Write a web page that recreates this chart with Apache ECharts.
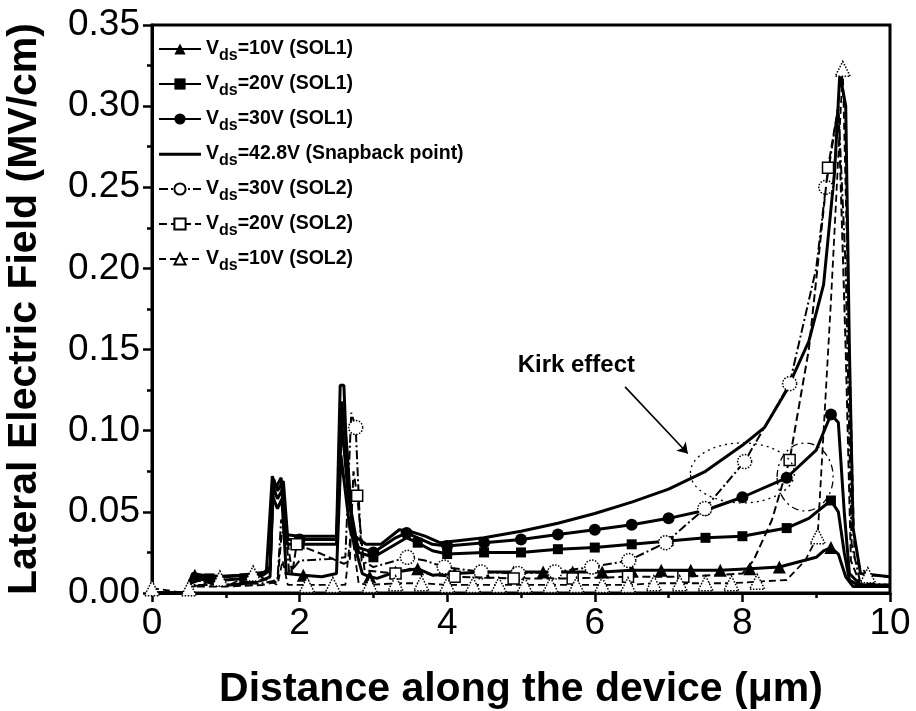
<!DOCTYPE html>
<html><head><meta charset="utf-8">
<script src="https://cdn.jsdelivr.net/npm/echarts/dist/echarts.min.js"></script>
<style>html,body{margin:0;padding:0;background:#fff}#c{width:916px;height:711px}</style>
</head><body><div id="c"></div>
<script>
// ---- labels ----
const seriesNames = ['Vds=10V (SOL1)','Vds=20V (SOL1)','Vds=30V (SOL1)','Vds=42.8V (Snapback point)','Vds=30V (SOL2)','Vds=20V (SOL2)','Vds=10V (SOL2)'];
const xTitle = 'Distance along the device (\u03bcm)';
const yTitle = 'Lateral Electric Field (MV/cm)';
const kirkText = 'Kirk effect';

// ---- Vds=10V (SOL1) ----
const line10s1 = [[0,0],[0.45,0],[0.5,0.004],[0.7,0.008],[0.85,0.005],[1.05,0.005],[1.3,0.006],[1.5,0.008],[1.6,0.01],[1.63,0.06],[1.7,0.052],[1.76,0.058],[1.82,0.012],[2.3,0.01],[2.5,0.012],[2.56,0.085],[2.68,0.04],[2.85,0.012],[3.05,0.009],[3.8,0.011],[9.0,0.022],[9.1,0.026],[9.3,0.024],[9.4,0.01],[9.5,0.004],[10,0.004]];
const marks10s1 = [[0.58,0.011],[2.05,0.011],[2.95,0.01],[3.3,0.013],[3.6,0.015],[4.1,0.012],[4.5,0.013],[4.9,0.013],[5.3,0.013],[5.7,0.013],[6.1,0.013],[6.5,0.014],[6.9,0.014],[7.3,0.014],[7.7,0.014],[8.1,0.015],[8.5,0.016],[9.2,0.028]];

// ---- Vds=20V (SOL1) ----
const line20s1 = [[0,0],[0.45,0],[0.52,0.006],[0.7,0.009],[1.0,0.008],[1.5,0.011],[1.6,0.014],[1.64,0.066],[1.7,0.058],[1.77,0.064],[1.83,0.03],[2.2,0.03],[2.5,0.03],[2.57,0.105],[2.66,0.06],[2.8,0.025],[3.3,0.03],[3.45,0.034],[3.8,0.026],[8.9,0.046],[9.3,0.05],[9.38,0.025],[9.45,0.008],[9.6,0.004],[10,0.004]];
const marks20s1 = [[0.78,0.009],[1.25,0.009],[2.0,0.03],[3.0,0.022],[3.6,0.031],[4.0,0.024],[4.5,0.025],[5.0,0.025],[5.5,0.027],[6.0,0.028],[6.5,0.030],[7.0,0.032],[7.5,0.034],[8.0,0.035],[8.6,0.040],[9.2,0.057]];

// ---- Vds=30V (SOL1) ----
const line30s1 = [[0,0],[0.45,0],[0.52,0.008],[0.7,0.011],[1.0,0.01],[1.5,0.012],[1.6,0.016],[1.65,0.07],[1.7,0.063],[1.78,0.069],[1.84,0.033],[2.2,0.033],[2.5,0.033],[2.57,0.118],[2.64,0.09],[2.72,0.035],[2.8,0.028],[3.3,0.034],[3.8,0.03],[9.0,0.088],[9.3,0.105],[9.38,0.05],[9.45,0.012],[9.6,0.005],[10,0.005]];
const marks30s1 = [[2.0,0.033],[3.0,0.025],[3.45,0.037],[4.0,0.029],[4.5,0.031],[5.0,0.033],[5.5,0.036],[6.0,0.039],[6.5,0.042],[7.0,0.046],[7.5,0.051],[8.0,0.059],[8.6,0.071],[9.2,0.11]];

// ---- Vds=42.8V (Snapback point) ----
const lineSnap = [[0,0],[0.45,0],[0.55,0.012],[0.8,0.01],[1.2,0.011],[1.55,0.013],[1.63,0.072],[1.68,0.065],[1.75,0.071],[1.8,0.036],[2.0,0.035],[2.5,0.035],[2.55,0.128],[2.6,0.128],[2.66,0.06],[2.75,0.035],[2.9,0.03],[3.1,0.03],[3.35,0.039],[3.5,0.038],[3.7,0.035],[3.9,0.031],[4.5,0.034],[5.0,0.038],[5.5,0.043],[6.0,0.049],[6.5,0.056],[7.0,0.064],[7.5,0.075],[8.0,0.091],[8.3,0.102],[8.6,0.125],[8.9,0.155],[9.1,0.19],[9.25,0.26],[9.32,0.32],[9.4,0.30],[9.45,0.15],[9.5,0.04],[9.6,0.012],[10,0.01]];
const marksSnap = [];

// ---- Vds=30V (SOL2) ----
const line30s2 = [[0,0],[0.45,0],[0.52,0.005],[1.0,0.005],[1.5,0.006],[1.7,0.008],[1.75,0.045],[1.8,0.045],[1.86,0.012],[2.0,0.02],[2.4,0.021],[2.62,0.022],[2.7,0.111],[2.84,0.02],[3.0,0.016],[3.7,0.02],[9.0,0.2],[9.3,0.30],[9.4,0.2],[9.48,0.03],[9.6,0.006],[10,0.005]];
const marks30s2 = [[2.76,0.102],[3.46,0.022],[3.96,0.016],[4.46,0.013],[4.96,0.012],[5.46,0.013],[5.96,0.016],[6.46,0.020],[6.96,0.031],[7.49,0.052],[8.03,0.081],[8.64,0.129],[9.13,0.25]];

// ---- Vds=20V (SOL2) ----
const line20s2 = [[0,0],[0.45,0],[0.52,0.004],[1.0,0.004],[1.5,0.005],[1.7,0.007],[1.76,0.038],[1.83,0.034],[1.9,0.012],[2.3,0.024],[2.6,0.018],[2.68,0.02],[2.73,0.075],[2.88,0.014],[3.5,0.015],[3.8,0.011],[8.0,0.012],[8.15,0.02],[8.4,0.045],[8.9,0.15],[9.3,0.30],[9.4,0.15],[9.47,0.02],[9.6,0.005],[10,0.004]];
const marks20s2 = [[1.96,0.03],[2.78,0.06],[3.3,0.012],[4.1,0.01],[4.9,0.009],[5.7,0.009],[6.45,0.01],[7.2,0.01],[8.64,0.082],[9.16,0.262]];

// ---- Vds=10V (SOL2) ----
const line10s2 = [[0,0.003],[0.45,0],[1.0,0.004],[1.7,0.005],[1.77,0.02],[1.84,0.005],[2.62,0.005],[2.7,0.04],[2.8,0.006],[8.6,0.008],[8.85,0.02],[9.2,0.18],[9.45,0.15],[9.52,0.02],[10,0.01]];
const marks10s2 = [[0,0.003],[0.5,0.003],[0.92,0.009],[1.37,0.012],[2.1,0.005],[2.45,0.005],[2.95,0.005],[3.3,0.006],[3.65,0.006],[4.0,0.005],[4.35,0.005],[4.7,0.005],[5.05,0.005],[5.4,0.005],[5.75,0.005],[6.1,0.005],[6.45,0.005],[6.8,0.006],[7.15,0.006],[7.5,0.006],[7.85,0.006],[8.2,0.007],[9.02,0.035],[9.36,0.323],[9.7,0.011]];

// ---- annotation anchors (data coords) ----
const kirkLabelAt = [5.75, 0.1405];
const kirkArrow = [[6.41, 0.127], [7.26, 0.086]];
const kirkEllipseA = [8.0, 0.074];
const kirkEllipseB = [8.85, 0.0715];

// ---- axis ticks ----
const xMin = 0, xMax = 10, xStep = 2;
const yMin = 0, yMax = 0.35, yStep = 0.05;

function merge(line, marks){
  const items = line.map(p => ({value: p, symbol: 'none'}))
    .concat(marks.map(p => ({value: p})));
  items.sort((a,b) => a.value[0] - b.value[0]);
  return items;
}

const FONT = 'Liberation Sans, Arial, Helvetica, sans-serif';
const traces = [
  {line: line10s1, marks: marks10s1, symbol: 'triangle', size: 13, fill: '#000', dash: 'solid', lw: 3, border: 'solid'},
  {line: line20s1, marks: marks20s1, symbol: 'rect', size: 10, fill: '#000', dash: 'solid', lw: 3, border: 'solid'},
  {line: line30s1, marks: marks30s1, symbol: 'circle', size: 12, fill: '#000', dash: 'solid', lw: 3, border: 'solid'},
  {line: lineSnap, marks: marksSnap, symbol: 'none', size: 0, fill: '#000', dash: 'solid', lw: 3, border: 'solid'},
  {line: line30s2, marks: marks30s2, symbol: 'circle', size: 14, fill: '#fff', dash: [9,3,2,3], lw: 2, border: 'dotted'},
  {line: line20s2, marks: marks20s2, symbol: 'rect', size: 11, fill: '#fff', dash: [8,4], lw: 2, border: 'solid'},
  {line: line10s2, marks: marks10s2, symbol: 'triangle', size: 15, fill: '#fff', dash: [7,4], lw: 1.8, border: 'dotted'}
];

const series = traces.map((t, i) => ({
  name: seriesNames[i],
  type: 'line',
  data: merge(t.line, t.marks),
  symbol: t.symbol,
  symbolSize: t.size,
  showSymbol: true,
  showAllSymbol: true,
  smooth: false,
  z: 2 + i,
  lineStyle: {color: '#000', width: t.lw, type: t.dash},
  itemStyle: {color: t.fill, borderColor: '#000', borderWidth: t.fill === '#fff' ? 1.5 : 0, borderType: t.border, opacity: 1},
  emphasis: {disabled: true},
  markLine: i === 3 ? {
    silent: true, symbol: ['none', 'arrow'], symbolSize: 10,
    lineStyle: {color: '#000', width: 1.6, type: 'solid'},
    label: {show: false},
    data: [[{coord: kirkArrow[0]}, {coord: kirkArrow[1]}]]
  } : undefined
}));

const legendData = seriesNames.map((n, i) => i === 3
  ? {name: n, icon: 'path://M0,0L0.01,0L0.01,0.01Z M0,5.8L42,5.8L42,8.8L0,8.8Z M41.99,14L42,14L42,13.99Z', itemStyle: {color: '#000'}}
  : {name: n});

const option = {
  animation: false,
  backgroundColor: '#fff',
  grid: {left: 152, right: 26, top: 25, bottom: 118, show: true, borderColor: '#000', borderWidth: 3, outerBoundsMode: 'none'},
  legend: {
    orient: 'vertical', left: 158, top: 39, padding: 0,
    itemWidth: 42, itemHeight: 14, itemGap: 10,
    data: legendData,
    selectedMode: false,
    formatter: name => '{v|V}{s|ds}{t|' + name.slice(3) + '}',
    textStyle: {
      color: '#000',
      rich: {
        v: {fontSize: 19.5, fontWeight: 'bold', fontFamily: FONT, color: '#000'},
        s: {fontSize: 16, fontWeight: 'bold', fontFamily: FONT, color: '#000', padding: [14, 0, 0, 0]},
        t: {fontSize: 19.5, fontWeight: 'bold', fontFamily: FONT, color: '#000'}
      }
    }
  },
  xAxis: {
    type: 'value', min: xMin, max: xMax, interval: xStep,
    name: xTitle, nameLocation: 'middle', nameGap: 76,
    nameTextStyle: {fontSize: 41, fontWeight: 'bold', fontFamily: FONT, color: '#000'},
    axisLine: {show: true, onZero: false, lineStyle: {color: '#000', width: 3}},
    axisTick: {show: true, inside: false, length: 9, lineStyle: {color: '#000', width: 2.5}},
    minorTick: {show: true, splitNumber: 2, length: 5, lineStyle: {color: '#000', width: 2.5}},
    splitLine: {show: false},
    axisLabel: {fontSize: 37, fontFamily: FONT, color: '#000', margin: 12}
  },
  yAxis: {
    type: 'value', min: yMin, max: yMax, interval: yStep,
    name: yTitle, nameLocation: 'middle', nameGap: 107,
    nameTextStyle: {fontSize: 41, fontWeight: 'bold', fontFamily: FONT, color: '#000'},
    axisLine: {show: true, onZero: false, lineStyle: {color: '#000', width: 3}},
    axisTick: {show: true, inside: false, length: 9, lineStyle: {color: '#000', width: 2.5}},
    minorTick: {show: true, splitNumber: 2, length: 5, lineStyle: {color: '#000', width: 2.5}},
    splitLine: {show: false},
    axisLabel: {fontSize: 37, fontFamily: FONT, color: '#000', margin: 12, formatter: v => v.toFixed(2)}
  },
  series: series
};

const chart = echarts.init(document.getElementById('c'), null, {renderer: 'canvas'});
chart.setOption(option);

const px = p => chart.convertToPixel({gridIndex: 0}, p);
const cA = px(kirkEllipseA), cB = px(kirkEllipseB), tl = px(kirkLabelAt);
chart.setOption({
  graphic: [
    {type: 'ellipse', shape: {cx: cA[0], cy: cA[1], rx: 52, ry: 30}, style: {fill: 'none', stroke: '#000', lineWidth: 1.3, lineDash: [2, 4]}, z: 20, silent: true},
    {type: 'ellipse', shape: {cx: cB[0], cy: cB[1], rx: 28, ry: 34}, style: {fill: 'none', stroke: '#000', lineWidth: 1.3, lineDash: [7, 4, 2, 4]}, z: 20, silent: true},
    {type: 'text', x: tl[0], y: tl[1], style: {text: kirkText, fontSize: 24, fontWeight: 'bold', fontFamily: FONT, fill: '#000', textAlign: 'center', textVerticalAlign: 'middle'}, z: 20, silent: true}
  ]
});
</script>
</body></html>
